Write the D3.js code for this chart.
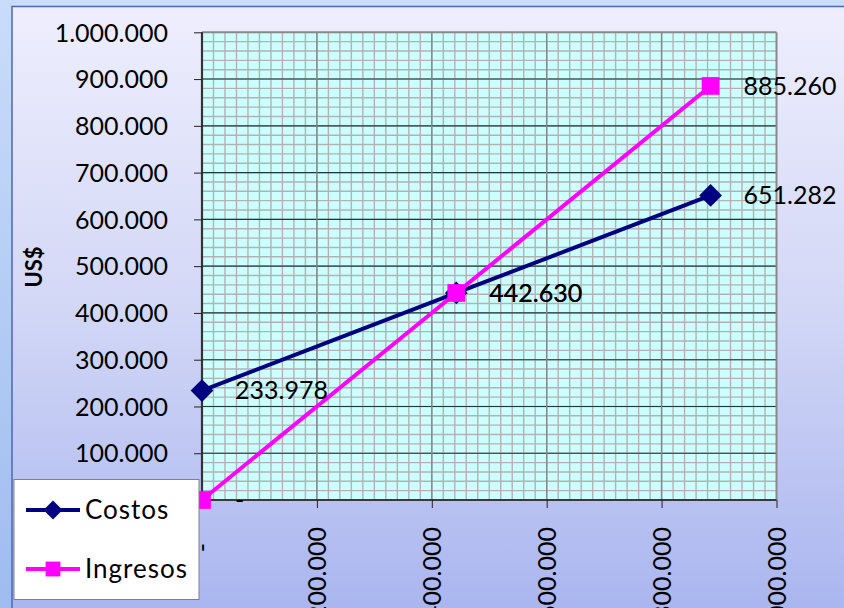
<!DOCTYPE html>
<html>
<head>
<meta charset="utf-8">
<script src="https://cdn.jsdelivr.net/npm/d3@7/dist/d3.min.js"></script>
<style>
  html, body { margin: 0; padding: 0; overflow: hidden; }
  svg { display: block; }
  text { font-family: "Century Gothic", "URW Gothic", Lato, sans-serif; fill: #000; }
</style>
</head>
<body>
<script>
// ---- data ----
const units = [0, 442630, 885260];
const costos = [233978, 442630, 651282];
const ingresos = [0, 442630, 885260];
const seriesNames = ["Costos", "Ingresos"];
const seriesColors = ["#000080", "#ff00ff"];
const xTicks = [0, 200000, 400000, 600000, 800000, 1000000];
const xTickLabels = ["-", "200.000", "400.000", "600.000", "800.000", "1.000.000"];
const yTicks = [0, 100000, 200000, 300000, 400000, 500000, 600000, 700000, 800000, 900000, 1000000];
const yTickLabels = ["-", "100.000", "200.000", "300.000", "400.000", "500.000", "600.000", "700.000", "800.000", "900.000", "1.000.000"];
const yTitle = "US$";

const W = 844, H = 608;
const locale = d3.formatLocale({decimal: ",", thousands: ".", grouping: [3], currency: ["$", ""]});
const fmt = v => v === 0 ? "-" : locale.format(",")(v);

const svg = d3.select("body").append("svg").attr("width", W).attr("height", H);
const defs = svg.append("defs");
const gOut = defs.append("linearGradient").attr("id", "gOut").attr("x1", 0).attr("y1", 0).attr("x2", 0).attr("y2", 1);
gOut.append("stop").attr("offset", "0%").attr("stop-color", "#c9dcfa");
gOut.append("stop").attr("offset", "100%").attr("stop-color", "#9fbcf0");
const gIn = defs.append("linearGradient").attr("id", "gIn").attr("x1", 0).attr("y1", 0).attr("x2", 0).attr("y2", 1);
gIn.append("stop").attr("offset", "0%").attr("stop-color", "#eeeefd");
gIn.append("stop").attr("offset", "50%").attr("stop-color", "#d2d7f6");
gIn.append("stop").attr("offset", "100%").attr("stop-color", "#a9b5ef");

svg.append("rect").attr("width", W).attr("height", H).attr("fill", "url(#gOut)");
svg.append("rect").attr("x", 12).attr("y", 6.5).attr("width", W).attr("height", H)
  .attr("fill", "url(#gIn)").attr("stroke", "#4a68b8").attr("stroke-width", 1.5);

const x = d3.scaleLinear().domain([0, 1000000]).range([202, 776.5]);
const y = d3.scaleLinear().domain([0, 1000000]).range([500, 32.3]);
const [x0, x1] = x.range();
const [y0, y1] = y.range();

// plot area
svg.append("rect").attr("x", x0).attr("y", y1).attr("width", x1 - x0).attr("height", y0 - y1).attr("fill", "#ccffff");
const minor = d3.range(20000, 1000000, 20000);
const grid = svg.append("g");
grid.selectAll(".hm").data(minor).join("line")
  .attr("x1", x0).attr("x2", x1).attr("y1", d => y(d)).attr("y2", d => y(d))
  .attr("stroke", "#b2b2b2").attr("stroke-width", 1.4);
grid.selectAll(".vm").data(minor).join("line")
  .attr("y1", y1).attr("y2", y0).attr("x1", d => x(d)).attr("x2", d => x(d))
  .attr("stroke", "#b2b2b2").attr("stroke-width", 1.4);
grid.selectAll(".hM").data(yTicks.slice(1, -1)).join("line")
  .attr("x1", x0).attr("x2", x1).attr("y1", d => y(d)).attr("y2", d => y(d))
  .attr("stroke", "#1f3a3a").attr("stroke-width", 1.1);
grid.selectAll(".vM").data(xTicks.slice(1, -1)).join("line")
  .attr("y1", y1).attr("y2", y0).attr("x1", d => x(d)).attr("x2", d => x(d))
  .attr("stroke", "#7f8a8a").attr("stroke-width", 1.4);
// border
svg.append("line").attr("x1", x0).attr("x2", x1).attr("y1", y1).attr("y2", y1).attr("stroke", "#888").attr("stroke-width", 2);
svg.append("line").attr("x1", x1).attr("x2", x1).attr("y1", y1).attr("y2", y0).attr("stroke", "#888").attr("stroke-width", 2);
svg.append("line").attr("x1", x0).attr("x2", x1).attr("y1", y0).attr("y2", y0).attr("stroke", "#3a3a3a").attr("stroke-width", 2);
svg.append("line").attr("x1", x0).attr("x2", x0).attr("y1", y1).attr("y2", y0).attr("stroke", "#333").attr("stroke-width", 2.2);

// axes
const yAxis = svg.append("g").attr("transform", `translate(${x0},0)`)
  .call(d3.axisLeft(y).tickValues(yTicks).tickFormat((d, i) => yTickLabels[i]).tickSize(8).tickPadding(26));
yAxis.select(".domain").remove();
yAxis.selectAll(".tick line").attr("stroke", "#222");
yAxis.selectAll(".tick text").style("font-size", "25px").attr("fill", "#000").attr("dy", "0.35em");

const xAxis = svg.append("g").attr("transform", `translate(0,${y0})`)
  .call(d3.axisBottom(x).tickValues(xTicks).tickFormat((d, i) => xTickLabels[i]).tickSize(8));
xAxis.select(".domain").remove();
xAxis.selectAll(".tick line").attr("stroke", "#222");
xAxis.selectAll(".tick text").style("font-size", "25px").attr("fill", "#000")
  .attr("transform", "rotate(-90)").attr("text-anchor", "end")
  .attr("x", d => d === 0 ? -43 : -27).attr("y", 0).attr("dy", "0.35em");

// y title
svg.append("text").attr("transform", "translate(42,267) rotate(-90)").attr("text-anchor", "middle")
  .style("font-size", "22px").style("font-weight", "bold").text(yTitle);

// series
const series = [costos, ingresos];
const line = d3.line().x(d => x(d[0])).y(d => y(d[1]));
series.forEach((vals, si) => {
  const pts = units.map((u, i) => [u, vals[i]]);
  svg.append("path").datum(pts).attr("d", line).attr("fill", "none")
    .attr("stroke", seriesColors[si]).attr("stroke-width", 4).attr("stroke-linejoin", "round");
  const sym = si === 0 ? d3.symbolDiamond2 : d3.symbolSquare2;
  svg.selectAll(null).data(pts).join("path")
    .attr("transform", d => `translate(${x(d[0])},${y(d[1])})`)
    .attr("d", d3.symbol(sym, si === 0 ? 330 : 400))
    .attr("fill", seriesColors[si]);
});
series.forEach((vals, si) => {
  svg.selectAll(null).data(units.map((u, i) => [u, vals[i]])).join("text")
    .attr("x", d => x(d[0]) + 33).attr("y", d => y(d[1])).attr("dy", "0.35em")
    .style("font-size", "25px").text(d => fmt(d[1]));
});

// legend
const lg = svg.append("g");
lg.append("rect").attr("x", 14).attr("y", 479.5).attr("width", 185).attr("height", 120)
  .attr("fill", "#fff").attr("stroke", "#808080").attr("stroke-width", 1);
seriesNames.forEach((name, i) => {
  const ly = 510 + i * 59;
  lg.append("line").attr("x1", 26).attr("x2", 80).attr("y1", ly).attr("y2", ly)
    .attr("stroke", seriesColors[i]).attr("stroke-width", 4);
  lg.append("path").attr("transform", `translate(53,${ly})`)
    .attr("d", d3.symbol(i === 0 ? d3.symbolDiamond2 : d3.symbolSquare2, i === 0 ? 230 : 280))
    .attr("fill", seriesColors[i]);
  lg.append("text").attr("x", 85).attr("y", ly).attr("dy", "0.35em")
    .style("font-size", "26px").style("letter-spacing", "1px").text(name);
});
</script>
</body>
</html>
